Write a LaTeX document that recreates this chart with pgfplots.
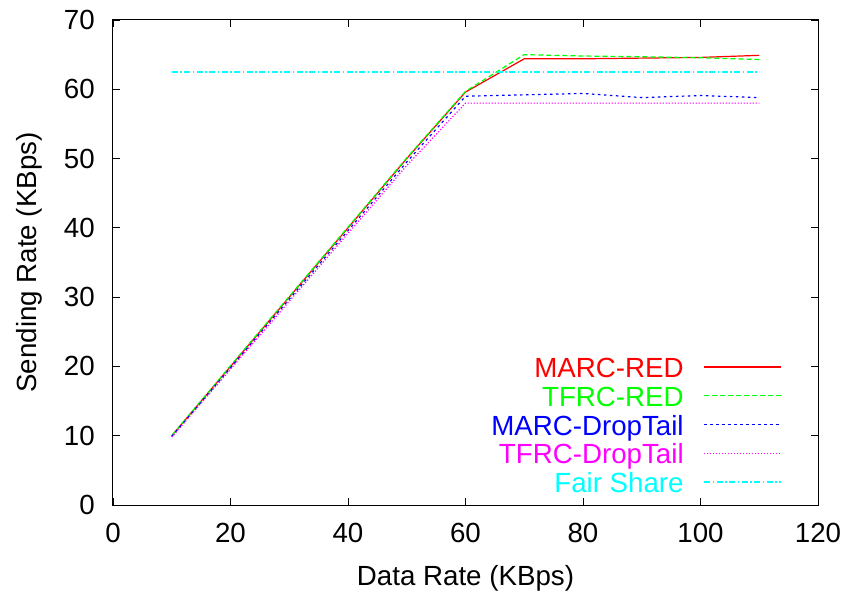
\documentclass[border=0pt]{standalone}
\usepackage{fontspec}
\setmainfont{Liberation Sans}
\usepackage{pgfplots}
\pgfplotsset{compat=1.18}

\definecolor{gred}{RGB}{255,0,0}
\definecolor{ggreen}{RGB}{0,255,0}
\definecolor{gblue}{RGB}{0,0,255}
\definecolor{gmag}{RGB}{255,0,255}
\definecolor{gcyan}{RGB}{0,255,255}

\pgfplotstableread{
x    marcred tfrcred marcdt tfrcdt
10   10.0    10.0    9.9    9.8
20   20.0    20.1    19.8   19.6
30   30.0    30.1    29.7   29.4
40   40.0    40.1    39.6   39.2
50   50.0    50.1    49.5   49.0
60   59.6    59.7    59.0   58.0
70   64.4    65.0    59.2   58.0
80   64.4    64.8    59.4   58.0
90   64.5    64.7    58.8   58.0
100  64.6    64.55   59.1   58.0
110  64.9    64.3    58.8   58.0
}\rates

\begin{document}
\begin{tikzpicture}[font=\fontsize{27.7bp}{33bp}\selectfont]
\useasboundingbox (-113bp,-90bp) rectangle (731bp,505bp);
\begin{axis}[
  scale only axis,
  width=705bp, height=485bp,
  xmin=0, xmax=120, ymin=0, ymax=70,
  xtick={0,20,...,120}, ytick={0,10,...,70},
  tick align=inside,
  major tick length=7bp,
  axis line style={line width=1bp},
  tick style={line width=0.8bp, black},
  /pgf/number format/assume math mode=true,
  xticklabel style={inner sep=0pt, anchor=north, yshift=-18bp},
  yticklabel style={inner sep=0pt, anchor=east, xshift=-18bp},
  xlabel={Data Rate (KBps)},
  ylabel={Sending Rate (KBps)},
  every axis x label/.style={at={(rel axis cs:0.5,0)}, yshift=-73bp, anchor=center},
  every axis y label/.style={at={(rel axis cs:0,0.5)}, xshift=-84bp, anchor=center, rotate=90},
  legend plot pos=right,
  legend cell align=right,
  legend image code/.code={\path (0bp,0bp); \draw[#1] (0bp,5bp) -- (77bp,5bp);},
  legend style={draw=none, fill=none, inner sep=0pt, column sep=20bp,
    at={(rel axis cs:0.949,0.007)}, anchor=south east,
    nodes={inner sep=0pt, text height=20bp, text depth=8.75bp}},
  every axis plot/.append style={line width=1.2bp},
]
\addplot[gred, solid] table[x=x, y=marcred] {\rates};
\addlegendentry{\textcolor{gred}{MARC-RED}}
\addplot[ggreen, dash pattern=on 5bp off 3bp] table[x=x, y=tfrcred] {\rates};
\addlegendentry{\textcolor{ggreen}{TFRC-RED}}
\addplot[gblue, dash pattern=on 2.5bp off 3.5bp] table[x=x, y=marcdt] {\rates};
\addlegendentry{\textcolor{gblue}{MARC-DropTail}}
\addplot[gmag, dash pattern=on 1.2bp off 1.8bp] table[x=x, y=tfrcdt] {\rates};
\addlegendentry{\textcolor{gmag}{TFRC-DropTail}}
\addplot[gcyan, dash pattern=on 6bp off 2.5bp on 1.5bp off 2.5bp] coordinates {(10,62.5) (110,62.5)};
\addlegendentry{\textcolor{gcyan}{Fair Share}}
\end{axis}
\end{tikzpicture}
\end{document}
